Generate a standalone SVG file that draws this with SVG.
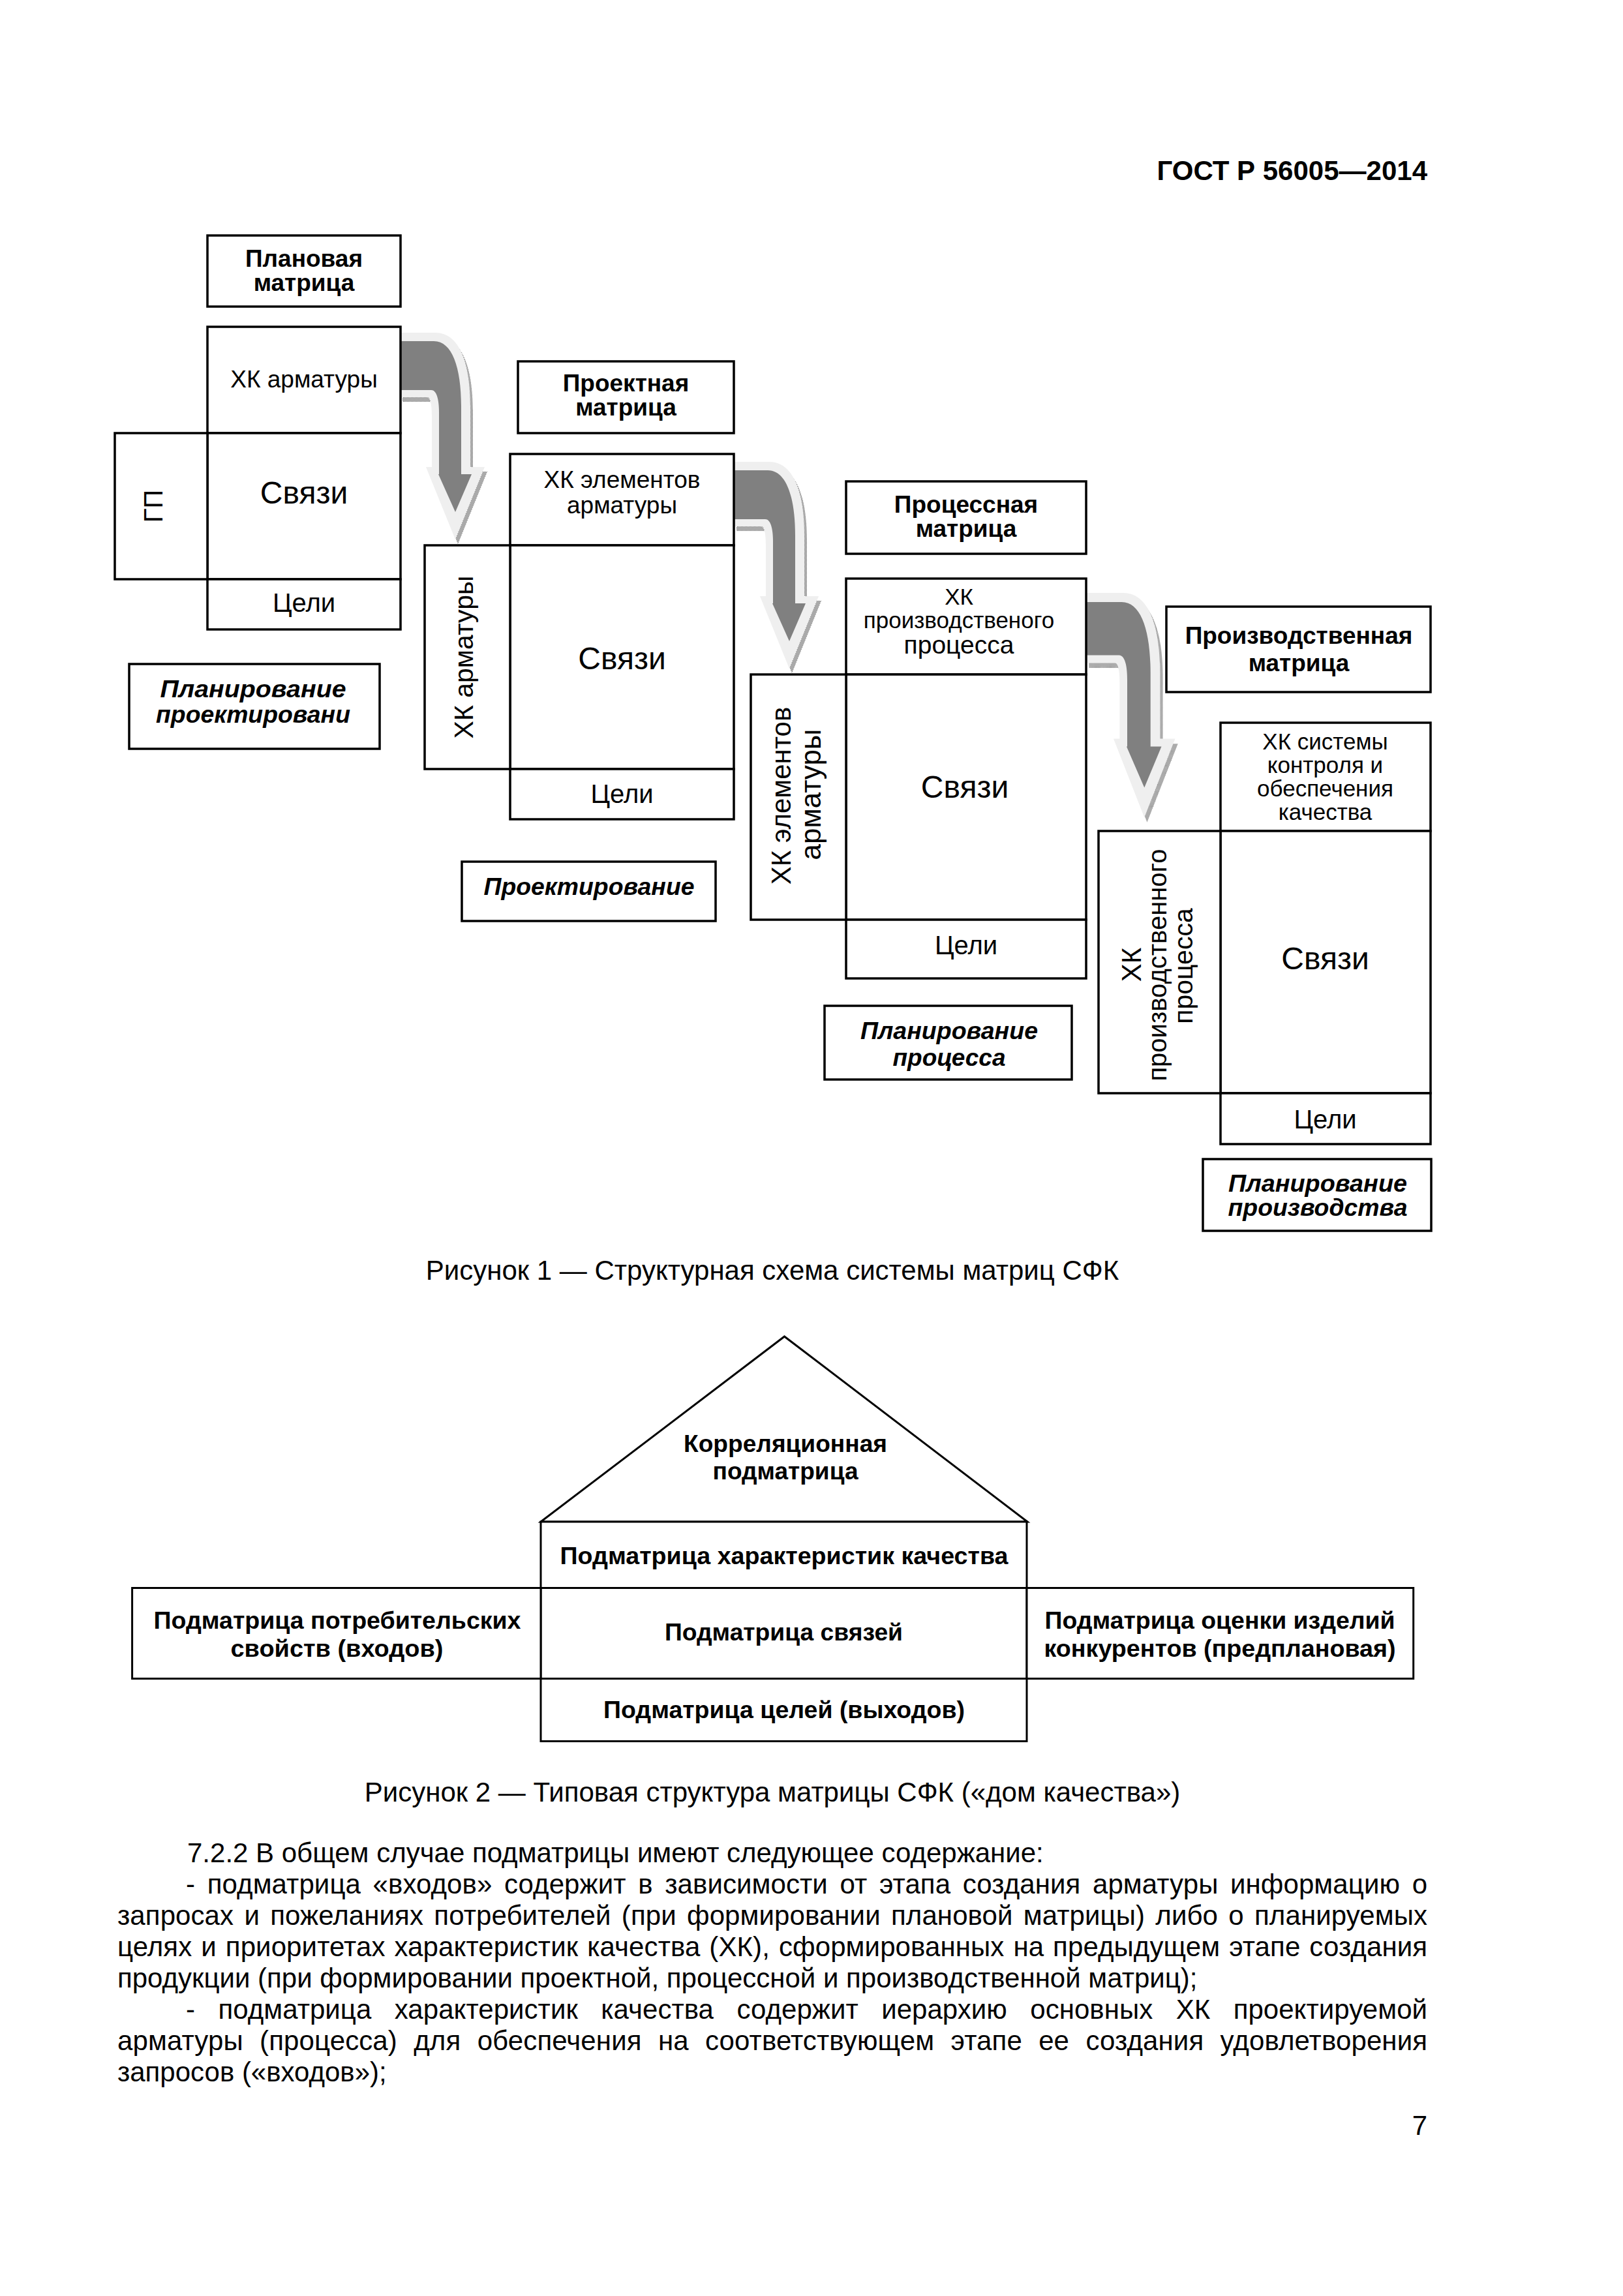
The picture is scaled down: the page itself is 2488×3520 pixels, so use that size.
<svg xmlns="http://www.w3.org/2000/svg" width="2488" height="3520" viewBox="0 0 2488 3520">
<style>
text{font-family:"Liberation Sans",Arial,sans-serif;fill:#000}
.c{text-anchor:middle}
.b{font-weight:bold}
.bi{font-weight:bold;font-style:italic}
.box{fill:#fff;stroke:#000;stroke-width:3.5}
.f2{fill:#fff;stroke:#000;stroke-width:3}
.s37{font-size:37px}
.s48{font-size:48px}
.s40{font-size:40px}
.body{font-size:42px}
</style>
<defs>
<pattern id="hatch" width="2" height="2" patternUnits="userSpaceOnUse">
<rect width="1" height="1" fill="#555"/><rect x="1" y="1" width="1" height="1" fill="#555"/>
</pattern>
<path id="arrDark" d="M0 0 L52 0 C80 0 94 40 94 100 L94 204 L110 204 L85 262 L59 204 L60 204 L60 110 C60 88 56 75 48 75 L0 75 Z"/>
<path id="arrLight" d="M0 -13 L54 -13 C92 -13 108 35 108 100 L108 193 L130 193 L85 304 L40 193 L49 193 L49 115 C49 98 47 86 42 86 L0 86 Z"/>
</defs>
<rect width="2488" height="3520" fill="#fff"/>

<text x="2188" y="276" class="b" font-size="42" text-anchor="end">ГОСТ Р 56005—2014</text>

<g id="connectors">
<g transform="translate(613,523)">
<use href="#arrLight" transform="translate(4,7)" fill="url(#hatch)"/>
<use href="#arrLight" fill="#efefef"/>
<use href="#arrDark" fill="#808080"/>
</g>
<g transform="translate(1125,721)">
<use href="#arrLight" transform="translate(4,7)" fill="url(#hatch)"/>
<use href="#arrLight" fill="#efefef"/>
<use href="#arrDark" fill="#808080"/>
</g>
<g transform="translate(1665,923) scale(1.05,1.086)">
<use href="#arrLight" transform="translate(4,7)" fill="url(#hatch)"/>
<use href="#arrLight" fill="#efefef"/>
<use href="#arrDark" fill="#808080"/>
</g>
</g>

<!-- Matrix 1 -->
<g id="m1-title"><rect class="box" x="318" y="361" width="296" height="109"/>
<text class="c b s37" x="466" y="409">Плановая</text><text class="c b s37" x="466" y="446">матрица</text></g>
<g id="m1-top"><rect class="box" x="318" y="501" width="296" height="163"/>
<text class="c s37" x="466" y="594">ХК арматуры</text></g>
<g id="m1-links"><rect class="box" x="318" y="664" width="296" height="224"/>
<text class="c s48" x="466" y="772">Связи</text></g>
<g id="m1-goals"><rect class="box" x="318" y="888" width="296" height="77"/>
<text class="c s40" x="466" y="938">Цели</text></g>
<g id="m1-left"><rect class="box" x="176" y="664" width="142" height="224"/>
<text class="c" font-size="40" transform="translate(249,776) rotate(-90)">ГП</text></g>
<g id="m1-stage"><rect class="box" x="198" y="1018" width="384" height="130"/>
<text class="c bi" font-size="36" x="388" y="1069" textLength="285" lengthAdjust="spacingAndGlyphs">Планирование</text>
<text class="c bi" font-size="36" x="388" y="1108" textLength="298" lengthAdjust="spacingAndGlyphs">проектировани</text></g>

<!-- Matrix 2 -->
<g id="m2-title"><rect class="box" x="794" y="554" width="331" height="110"/>
<text class="c b s37" x="959.5" y="600">Проектная</text><text class="c b s37" x="959.5" y="637">матрица</text></g>
<g id="m2-top"><rect class="box" x="782" y="696" width="343" height="140"/>
<text class="c s37" x="953.5" y="748">ХК элементов</text><text class="c s37" x="953.5" y="787">арматуры</text></g>
<g id="m2-links"><rect class="box" x="782" y="836" width="343" height="343"/>
<text class="c s48" x="953.5" y="1026">Связи</text></g>
<g id="m2-goals"><rect class="box" x="782" y="1179" width="343" height="77"/>
<text class="c s40" x="953.5" y="1231">Цели</text></g>
<g id="m2-left"><rect class="box" x="651" y="836" width="131" height="343"/>
<text class="c" font-size="41" transform="translate(725,1007.5) rotate(-90)">ХК арматуры</text></g>
<g id="m2-stage"><rect class="box" x="708" y="1321" width="389" height="91"/>
<text class="c bi" font-size="36" x="903" y="1372" textLength="323" lengthAdjust="spacingAndGlyphs">Проектирование</text></g>

<!-- Matrix 3 -->
<g id="m3-title"><rect class="box" x="1297" y="738" width="368" height="111"/>
<text class="c b s37" x="1481" y="786">Процессная</text><text class="c b s37" x="1481" y="823">матрица</text></g>
<g id="m3-top"><rect class="box" x="1297" y="887" width="368" height="147"/>
<text class="c" font-size="35" x="1470" y="927">ХК</text>
<text class="c" font-size="35" x="1470" y="963">производственого</text>
<text class="c" font-size="39" x="1470" y="1002">процесса</text></g>
<g id="m3-links"><rect class="box" x="1297" y="1034" width="368" height="376"/>
<text class="c s48" x="1479" y="1223">Связи</text></g>
<g id="m3-goals"><rect class="box" x="1297" y="1410" width="368" height="90"/>
<text class="c s40" x="1481" y="1463">Цели</text></g>
<g id="m3-left"><rect class="box" x="1151" y="1034" width="146" height="376"/>
<text class="c" font-size="42" transform="translate(1212,1220) rotate(-90)">ХК элементов</text>
<text class="c" font-size="44" transform="translate(1258,1218) rotate(-90)">арматуры</text></g>
<g id="m3-stage"><rect class="box" x="1264" y="1542" width="379" height="113"/>
<text class="c bi" font-size="36" x="1455" y="1593" textLength="272" lengthAdjust="spacingAndGlyphs">Планирование</text>
<text class="c bi" font-size="36" x="1455" y="1634" textLength="173" lengthAdjust="spacingAndGlyphs">процесса</text></g>

<!-- Matrix 4 -->
<g id="m4-title"><rect class="box" x="1788" y="930" width="405" height="131"/>
<text class="c b s37" x="1991" y="987">Производственная</text><text class="c b s37" x="1991" y="1029">матрица</text></g>
<g id="m4-top"><rect class="box" x="1871" y="1108" width="322" height="166"/>
<text class="c" font-size="35" x="2031.5" y="1149">ХК системы</text>
<text class="c" font-size="35" x="2031.5" y="1185">контроля и</text>
<text class="c" font-size="35" x="2031.5" y="1221">обеспечения</text>
<text class="c" font-size="35" x="2031.5" y="1257">качества</text></g>
<g id="m4-links"><rect class="box" x="1871" y="1274" width="322" height="402"/>
<text class="c s48" x="2031.5" y="1486">Связи</text></g>
<g id="m4-goals"><rect class="box" x="1871" y="1676" width="322" height="78"/>
<text class="c s40" x="2031.5" y="1730">Цели</text></g>
<g id="m4-left"><rect class="box" x="1684" y="1274" width="187" height="402"/>
<text class="c" font-size="42" transform="translate(1749,1479) rotate(-90)">ХК</text>
<text class="c" font-size="40" transform="translate(1788,1479.5) rotate(-90)">производственного</text>
<text class="c" font-size="41" transform="translate(1828,1481) rotate(-90)">процесса</text></g>
<g id="m4-stage"><rect class="box" x="1844" y="1777" width="350" height="110"/>
<text class="c bi" font-size="36" x="2020" y="1827" textLength="274" lengthAdjust="spacingAndGlyphs">Планирование</text>
<text class="c bi" font-size="36" x="2020" y="1864" textLength="275" lengthAdjust="spacingAndGlyphs">производства</text></g>

<text class="c body" x="1184" y="1962">Рисунок 1 — Структурная схема системы матриц СФК</text>

<!-- Figure 2 -->
<g id="roof"><polygon class="f2" points="829,2333 1202.5,2049 1575,2333"/>
<text class="c b" font-size="36" x="1204" y="2226" textLength="312" lengthAdjust="spacingAndGlyphs">Корреляционная</text>
<text class="c b" font-size="36" x="1204" y="2268" textLength="223" lengthAdjust="spacingAndGlyphs">подматрица</text></g>
<g id="hk"><rect class="f2" x="829" y="2333" width="745" height="101.5"/>
<text class="c b" font-size="36" x="1202" y="2398" textLength="687" lengthAdjust="spacingAndGlyphs">Подматрица характеристик качества</text></g>
<g id="links"><rect class="f2" x="829" y="2434.5" width="745" height="139"/>
<text class="c b" font-size="36" x="1201.5" y="2515" textLength="365" lengthAdjust="spacingAndGlyphs">Подматрица связей</text></g>
<g id="goals"><rect class="f2" x="829" y="2573.5" width="745" height="96"/>
<text class="c b" font-size="36" x="1202" y="2634" textLength="554" lengthAdjust="spacingAndGlyphs">Подматрица целей (выходов)</text></g>
<g id="inputs"><rect class="f2" x="202.6" y="2434.5" width="626.4" height="139"/>
<text class="c b" font-size="36" x="517" y="2497" textLength="563" lengthAdjust="spacingAndGlyphs">Подматрица потребительских</text>
<text class="c b" font-size="36" x="516.5" y="2540" textLength="326" lengthAdjust="spacingAndGlyphs">свойств (входов)</text></g>
<g id="competitors"><rect class="f2" x="1574" y="2434.5" width="592.7" height="139"/>
<text class="c b" font-size="36" x="1870" y="2497" textLength="537" lengthAdjust="spacingAndGlyphs">Подматрица оценки изделий</text>
<text class="c b" font-size="36" x="1870" y="2540" textLength="539" lengthAdjust="spacingAndGlyphs">конкурентов (предплановая)</text></g>

<text class="c body" x="1184" y="2762">Рисунок 2 — Типовая структура матрицы СФК («дом качества»)</text>

<g id="body-text" class="body">
<text class="body" x="287" y="2855">7.2.2 В общем случае подматрицы имеют следующее содержание:</text>
<text class="body" x="285" y="2903" word-spacing="6.9" textLength="1903" lengthAdjust="spacing">- подматрица «входов» содержит в зависимости от этапа создания арматуры информацию о</text>
<text class="body" x="180" y="2951" word-spacing="4.5" textLength="2008" lengthAdjust="spacing">запросах и пожеланиях потребителей (при формировании плановой матрицы) либо о планируемых</text>
<text class="body" x="180" y="2999" word-spacing="2.2" textLength="2008" lengthAdjust="spacing">целях и приоритетах характеристик качества (ХК), сформированных на предыдущем этапе создания</text>
<text class="body" x="180" y="3047">продукции (при формировании проектной, процессной и производственной матриц);</text>
<text class="body" x="285" y="3095" word-spacing="23.7" textLength="1903" lengthAdjust="spacing">- подматрица характеристик качества содержит иерархию основных ХК проектируемой</text>
<text class="body" x="180" y="3143" word-spacing="13.5" textLength="2008" lengthAdjust="spacing">арматуры (процесса) для обеспечения на соответствующем этапе ее создания удовлетворения</text>
<text class="body" x="180" y="3191">запросов («входов»);</text>
</g>

<text class="body" x="2188" y="3273" text-anchor="end">7</text>
</svg>
